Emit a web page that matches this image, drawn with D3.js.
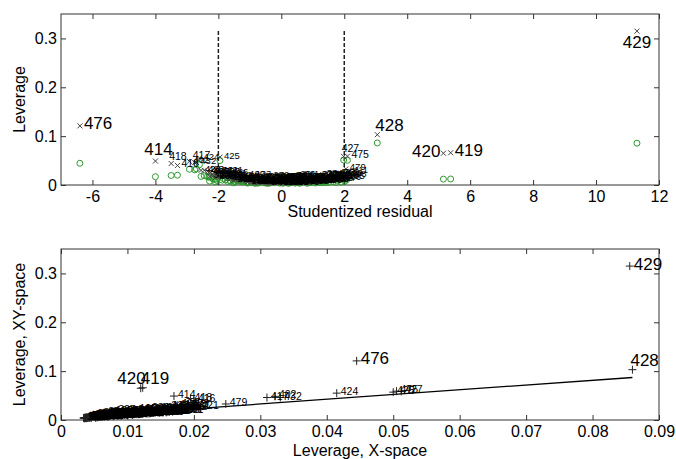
<!DOCTYPE html>
<html>
<head>
<meta charset="utf-8">
<script src="https://cdn.jsdelivr.net/npm/d3@7"></script>
<style>
body { margin: 0; background: #fff; }
text { font-family: Arial, "Liberation Sans", sans-serif; }
</style>
</head>
<body>
<svg id="chart" width="676" height="459"></svg>
<script>
// Observations: id, studentized residual, leverage in X-space, leverage in XY-space
const obsId = [
  429, 476, 428, 420, 419, 414, 418, 416, 417, 424,
  425, 475, 427, 421, 479, 402, 432, 423, 426, 430,
  12, 27, 38, 45, 53, 61, 74, 82, 90, 98,
  105, 113, 121, 130, 138, 146, 152, 160, 168, 175,
  183, 191, 199, 204, 212, 219, 226, 233, 240, 247,
  253, 260, 268, 275, 281, 288, 295, 301, 308, 315,
  322, 329, 336, 343, 350, 357, 364, 371, 378, 385,
  394, 397, 399, 403, 406, 409, 411, 413, 422, 431,
  3, 7, 16, 21, 33, 41, 58, 66, 79, 87,
  94, 109, 117, 126, 135, 142, 157, 164, 179, 187,
  195, 208, 215, 222, 230, 237, 244, 251, 258, 265,
  272, 279, 286, 293, 299, 306, 313, 320, 327, 334,
  2, 5, 9, 14, 19, 24, 29, 31, 36, 43,
  48, 51, 56, 63, 68, 71, 77, 84, 88, 92,
  101, 107, 111, 119, 124, 128, 133, 140, 148, 154,
  162, 166, 171, 177, 181, 189, 193, 201, 206, 210,
  217, 224, 228, 235, 242, 249, 256, 262, 270, 277,
  284, 291, 297, 303, 311, 318, 325, 332, 339, 346
];
const residual = [
  11.3, -6.4, 3.05, 5.15, 5.38, -4.0, -3.5, -3.3, -2.75, -2.6,
  -1.95, 2.1, 1.98, -1.85, 2.05, -2.92, -2.7, -2.45, -2.55, -2.3,
  -0.35, 0.62, -1.10, 1.35, -0.05, 0.21, -1.62, 0.95, -0.78, 1.78,
  -2.15, 0.44, -0.52, 1.12, -1.35, 0.05, 0.78, -0.95, 1.55, -1.85,
  0.32, -0.22, 1.95, -0.65, 0.88, -1.48, 1.28, -0.12, 0.55, -2.05,
  1.65, -0.88, 0.15, -1.22, 1.02, -0.42, 0.70, -1.72, 2.08, -0.30,
  1.42, -1.02, 0.38, -2.25, 1.85, -0.60, 0.25, -1.40, 1.20, -0.15,
  1.50, -1.95, 0.48, -0.72, 0.92, -1.15, 2.15, -2.35, 1.72, -2.00,
  0.10, -0.48, 0.66, -1.28, 1.08, -0.82, 0.30, -1.58, 1.38, -0.08,
  0.82, -1.05, 1.60, -0.55, 0.18, -1.78, 1.25, -0.25, 0.58, -1.32,
  2.02, -0.68, 0.40, -2.18, 1.15, -0.92, 0.72, -1.52, 0.02, 1.48,
  -0.38, 0.98, -1.68, 0.12, -1.08, 1.90, -0.58, 0.52, -2.28, 1.32,
  0.45, -0.62, 1.05, -1.18, 0.28, -0.35, 1.62, -0.85, 0.68, -1.45,
  0.08, 1.22, -0.18, 0.92, -1.62, 0.35, -0.75, 1.38, -0.02, 0.55,
  -1.25, 0.75, -0.45, 1.85, -2.08, 0.22, -0.95, 1.10, -0.28, 0.62,
  -1.55, 1.30, -0.10, 0.85, -0.68, 1.70, -1.88, 0.48, -0.40, 1.00,
  -0.15, 0.38, -1.35, 1.52, -0.58, 0.95, -2.10, 0.15, -0.80, 1.18,
  0.05, -1.12, 1.75, -0.32, 0.60, -1.70, 1.40, -0.50, 0.25, -0.98
];
const levX = [
  0.0856, 0.0445, 0.0860, 0.0120, 0.0123, 0.0170, 0.0195, 0.0200, 0.0310, 0.0415,
  0.0500, 0.0505, 0.0512, 0.0205, 0.0248, 0.0322, 0.0330, 0.0190, 0.0175, 0.0160,
  0.0042, 0.0051, 0.0063, 0.0072, 0.0038, 0.0046, 0.0089, 0.0055, 0.0068, 0.0094,
  0.0112, 0.0040, 0.0058, 0.0083, 0.0102, 0.0035, 0.0077, 0.0049, 0.0118, 0.0135,
  0.0062, 0.0053, 0.0145, 0.0085, 0.0044, 0.0071, 0.0098, 0.0079, 0.0107, 0.0093,
  0.0066, 0.0125, 0.0091, 0.0057, 0.0129, 0.0037, 0.0140, 0.0152, 0.0110, 0.0100,
  0.0048, 0.0116, 0.0122, 0.0160, 0.0170, 0.0133, 0.0039, 0.0081, 0.0060, 0.0148,
  0.0156, 0.0175, 0.0074, 0.0043, 0.0096, 0.0165, 0.0180, 0.0172, 0.0188, 0.0192,
  0.0052, 0.0036, 0.0087, 0.0064, 0.0041, 0.0105, 0.0128, 0.0137, 0.0082, 0.0066,
  0.0035, 0.0047, 0.0143, 0.0114, 0.0158, 0.0103, 0.0135, 0.0070, 0.0034, 0.0120,
  0.0076, 0.0150, 0.0089, 0.0131, 0.0167, 0.0060, 0.0118, 0.0045, 0.0108, 0.0100,
  0.0163, 0.0073, 0.0185, 0.0055, 0.0039, 0.0058, 0.0095, 0.0146, 0.0080, 0.0178,
  0.0045, 0.0061, 0.0078, 0.0095, 0.0052, 0.0108, 0.0125, 0.0037, 0.0142, 0.0068,
  0.0159, 0.0050, 0.0085, 0.0113, 0.0076, 0.0168, 0.0041, 0.0098, 0.0131, 0.0057,
  0.0088, 0.0149, 0.0063, 0.0104, 0.0121, 0.0036, 0.0176, 0.0069, 0.0117, 0.0092,
  0.0138, 0.0046, 0.0154, 0.0084, 0.0059, 0.0127, 0.0099, 0.0182, 0.0043, 0.0112,
  0.0071, 0.0161, 0.0090, 0.0054, 0.0139, 0.0106, 0.0065, 0.0123, 0.0038, 0.0174,
  0.0080, 0.0097, 0.0049, 0.0134, 0.0183, 0.0072, 0.0109, 0.0056, 0.0152, 0.0086
];
const levXY = [
  0.3150, 0.1210, 0.1030, 0.0650, 0.0660, 0.0490, 0.0440, 0.0400, 0.0460, 0.0550,
  0.0570, 0.0590, 0.0585, 0.0270, 0.0328, 0.0484, 0.0460, 0.0300, 0.0300, 0.0260,
  0.0044, 0.0058, 0.0086, 0.0107, 0.0038, 0.0047, 0.0139, 0.0072, 0.0080, 0.0154,
  0.0200, 0.0044, 0.0063, 0.0107, 0.0137, 0.0035, 0.0089, 0.0066, 0.0164, 0.0200,
  0.0064, 0.0054, 0.0217, 0.0093, 0.0059, 0.0113, 0.0129, 0.0079, 0.0113, 0.0173,
  0.0118, 0.0140, 0.0091, 0.0085, 0.0149, 0.0040, 0.0149, 0.0208, 0.0192, 0.0102,
  0.0086, 0.0136, 0.0125, 0.0256, 0.0235, 0.0140, 0.0040, 0.0118, 0.0087, 0.0148,
  0.0199, 0.0247, 0.0078, 0.0053, 0.0112, 0.0190, 0.0268, 0.0277, 0.0244, 0.0268,
  0.0052, 0.0040, 0.0095, 0.0095, 0.0063, 0.0118, 0.0130, 0.0184, 0.0118, 0.0066,
  0.0048, 0.0068, 0.0192, 0.0120, 0.0159, 0.0163, 0.0165, 0.0071, 0.0040, 0.0153,
  0.0154, 0.0159, 0.0092, 0.0222, 0.0192, 0.0076, 0.0128, 0.0089, 0.0108, 0.0142,
  0.0166, 0.0091, 0.0239, 0.0055, 0.0061, 0.0127, 0.0101, 0.0151, 0.0179, 0.0211,
  0.0049, 0.0068, 0.0099, 0.0121, 0.0053, 0.0110, 0.0175, 0.0051, 0.0151, 0.0108,
  0.0159, 0.0078, 0.0086, 0.0129, 0.0126, 0.0170, 0.0052, 0.0134, 0.0131, 0.0063,
  0.0118, 0.0160, 0.0067, 0.0169, 0.0203, 0.0037, 0.0193, 0.0092, 0.0118, 0.0099,
  0.0184, 0.0078, 0.0154, 0.0098, 0.0068, 0.0182, 0.0166, 0.0186, 0.0046, 0.0131,
  0.0071, 0.0164, 0.0125, 0.0098, 0.0145, 0.0123, 0.0149, 0.0123, 0.0050, 0.0200,
  0.0080, 0.0121, 0.0107, 0.0136, 0.0190, 0.0127, 0.0146, 0.0061, 0.0153, 0.0104
];

// which ids get the big / medium labels
const topBig = [476, 414, 428, 420, 419, 429];
const topMid = [418, 417, 416, 427, 475];
const bottomBig = [429, 428, 476, 420, 419];

// ticks and reference lines
const residTicks = [-6, -4, -2, 0, 2, 4, 6, 8, 10, 12];
const levTicks = [0, 0.1, 0.2, 0.3];
const levXTicks = [0, 0.01, 0.02, 0.03, 0.04, 0.05, 0.06, 0.07, 0.08, 0.09];
const residCutoffs = [-2, 2];
const fitX = [0.0034, 0.0860];
const fitY = [0.0070, 0.0870];

const rows = obsId.map((id, i) => ({ id: id, r: residual[i], hx: levX[i], hxy: levXY[i] }));

const svg = d3.select("#chart");
const green = "#2f9a2f";
const markGrey = "#444";

const topBox = { l: 61, r: 659, t: 14, b: 185 };
const botBox = { l: 61, r: 659, t: 249, b: 420 };

const xTop = d3.scaleLinear().domain([-7, 12]).range([topBox.l, topBox.r]);
const yTop = d3.scaleLinear().domain([0, 0.35]).range([topBox.b, topBox.t]);
const xBot = d3.scaleLinear().domain([0, 0.09]).range([botBox.l, botBox.r]);
const yBot = d3.scaleLinear().domain([0, 0.35]).range([botBox.b, botBox.t]);

function drawFrame(box, x, y, xTicks, yTicks) {
  const g = svg.append("g");
  const fmt = d => String(d);
  const axes = [
    [d3.axisBottom(x).tickValues(xTicks).tickFormat(fmt).tickPadding(6), `translate(0,${box.b})`],
    [d3.axisTop(x).tickValues(xTicks).tickFormat(""), `translate(0,${box.t})`],
    [d3.axisLeft(y).tickValues(yTicks).tickFormat(fmt).tickPadding(4), `translate(${box.l},0)`],
    [d3.axisRight(y).tickValues(yTicks).tickFormat(""), `translate(${box.r},0)`]
  ];
  axes.forEach(([ax, tr]) => {
    const a = g.append("g")
      .attr("transform", tr)
      .call(ax.tickSizeInner(-5).tickSizeOuter(0));
    a.select(".domain").remove();
    a.selectAll("line").attr("stroke", "#333");
    a.selectAll("text")
      .attr("font-size", 16)
      .attr("font-family", "Arial, 'Liberation Sans', sans-serif")
      .attr("fill", "#000");
  });
  g.append("rect")
    .attr("x", box.l).attr("y", box.t)
    .attr("width", box.r - box.l).attr("height", box.b - box.t)
    .attr("fill", "none").attr("stroke", "#333").attr("stroke-width", 1);
}

function crossPath(px, py, s) {
  return `M${px - s},${py - s}L${px + s},${py + s}M${px - s},${py + s}L${px + s},${py - s}`;
}
function plusPath(px, py, s) {
  return `M${px - s},${py}L${px + s},${py}M${px},${py - s}L${px},${py + s}`;
}

// label placement around a marker
function placeLabel(t, mode, px, py) {
  const m = {
    r:  ["start", px + 4, py - 2, "central"],
    l:  ["end", px - 3, py - 2, "central"],
    u:  ["middle", px + 3, py - 6, "alphabetic"],
    ur: ["start", px - 2, py - 4, "alphabetic"],
    ul: ["end", px + 5, py - 4, "alphabetic"],
    d:  ["middle", px, py + 5, "hanging"]
  }[mode];
  t.attr("text-anchor", m[0]).attr("x", m[1]).attr("y", m[2]).attr("dominant-baseline", m[3]);
}

const topPlace = { 476: "r", 414: "u", 428: "ur", 420: "l", 419: "r", 429: "d", 418: "ur", 417: "ur", 416: "r", 427: "ur" };
const botPlace = { 429: "r", 428: "ur", 476: "r", 420: "ul", 419: "ur" };

// ---------- top panel: leverage vs studentized residual ----------
drawFrame(topBox, xTop, yTop, residTicks, levTicks);

const topG = svg.append("g");
topG.selectAll(".cut")
  .data(residCutoffs)
  .enter().append("line")
  .attr("x1", d => xTop(d)).attr("x2", d => xTop(d))
  .attr("y1", yTop(0)).attr("y2", yTop(d3.max(rows, d => d.hxy)))
  .attr("stroke", "#222").attr("stroke-width", 1.5).attr("stroke-dasharray", "4,2");

topG.selectAll(".cm")
  .data(rows)
  .enter().append("circle")
  .attr("cx", d => xTop(d.r)).attr("cy", d => yTop(d.hx))
  .attr("r", 3)
  .attr("fill", "none").attr("stroke", green).attr("stroke-width", 1);

topG.selectAll(".xm")
  .data(rows)
  .enter().append("path")
  .attr("d", d => crossPath(xTop(d.r), yTop(d.hxy), 2.5))
  .attr("stroke", markGrey).attr("stroke-width", 1).attr("fill", "none");

topG.selectAll(".lab")
  .data(rows)
  .enter().append("text")
  .attr("font-size", d => topBig.includes(d.id) ? 17 : topMid.includes(d.id) ? 10.5 : 9.5)
  .attr("fill", "#000")
  .text(d => d.id)
  .each(function (d) {
    placeLabel(d3.select(this), topPlace[d.id] || "r", xTop(d.r), yTop(d.hxy));
  });

svg.append("text")
  .attr("x", (topBox.l + topBox.r) / 2).attr("y", 217)
  .attr("text-anchor", "middle").attr("font-size", 16)
  .text("Studentized residual");
svg.append("text")
  .attr("transform", `translate(25,${(topBox.t + topBox.b) / 2}) rotate(-90)`)
  .attr("text-anchor", "middle").attr("font-size", 16)
  .text("Leverage");

// ---------- bottom panel: XY-space vs X-space leverage ----------
drawFrame(botBox, xBot, yBot, levXTicks, levTicks);

const botG = svg.append("g");
botG.append("path")
  .datum(fitX.map((v, i) => [v, fitY[i]]))
  .attr("d", d3.line().x(d => xBot(d[0])).y(d => yBot(d[1])))
  .attr("stroke", "#000").attr("stroke-width", 1.3).attr("fill", "none");

botG.selectAll(".pm")
  .data(rows)
  .enter().append("path")
  .attr("d", d => plusPath(xBot(d.hx), yBot(d.hxy), 4))
  .attr("stroke", "#222").attr("stroke-width", 1).attr("fill", "none");

botG.selectAll(".lab")
  .data(rows)
  .enter().append("text")
  .attr("font-size", d => bottomBig.includes(d.id) ? 17 : 10.5)
  .attr("fill", "#000")
  .text(d => d.id)
  .each(function (d) {
    placeLabel(d3.select(this), botPlace[d.id] || "r", xBot(d.hx), yBot(d.hxy));
  });

svg.append("text")
  .attr("x", (botBox.l + botBox.r) / 2).attr("y", 456)
  .attr("text-anchor", "middle").attr("font-size", 16)
  .text("Leverage, X-space");
svg.append("text")
  .attr("transform", `translate(25,${(botBox.t + botBox.b) / 2}) rotate(-90)`)
  .attr("text-anchor", "middle").attr("font-size", 16)
  .text("Leverage, XY-space");
</script>
</body>
</html>
